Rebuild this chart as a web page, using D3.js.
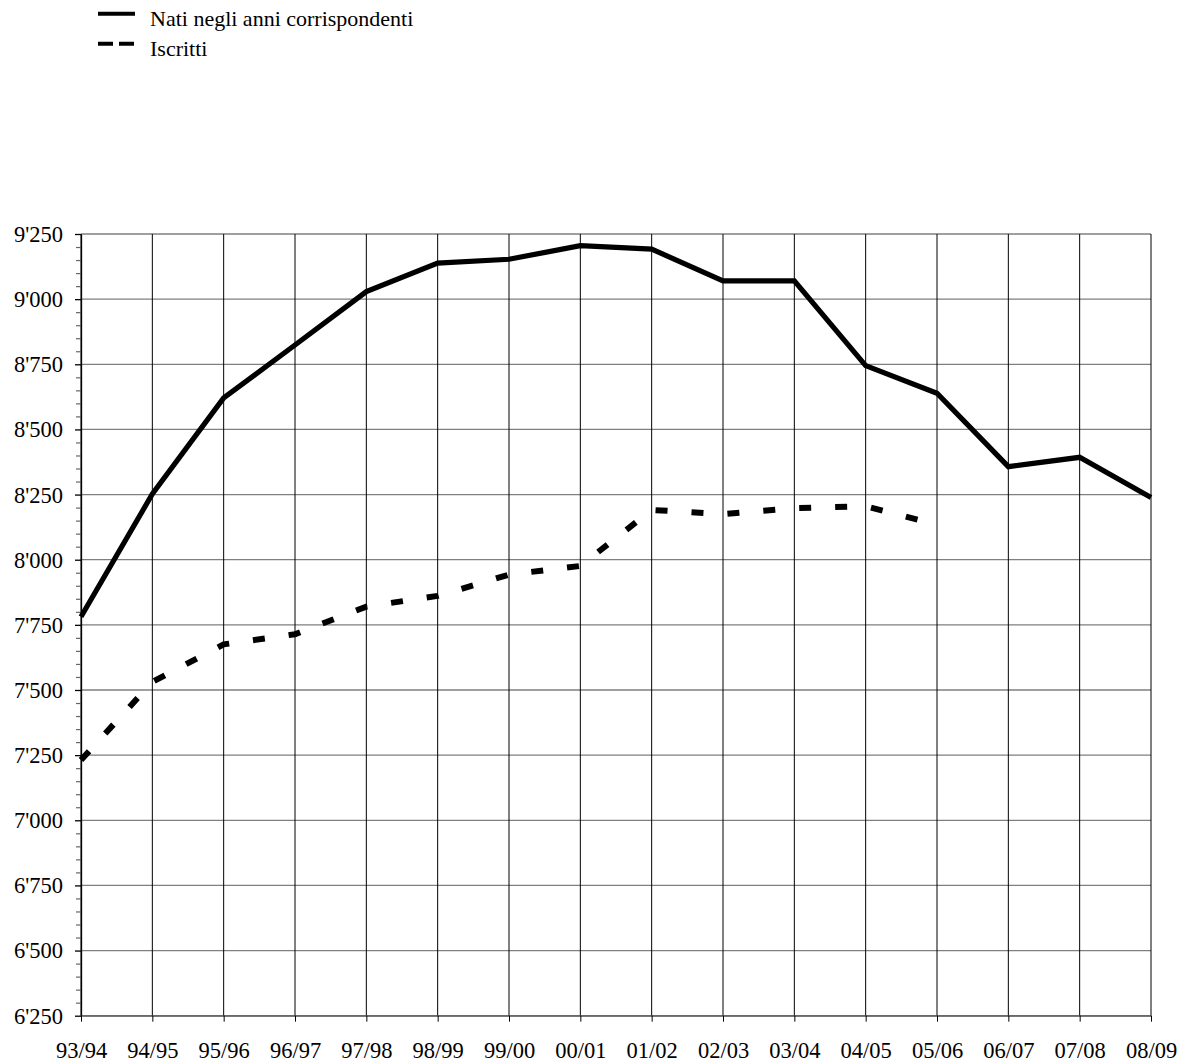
<!DOCTYPE html>
<html>
<head>
<meta charset="utf-8">
<script src="https://cdn.jsdelivr.net/npm/d3@7"></script>
<style>
  body { margin: 0; background: #fff; }
  svg { display: block; font-family: "Liberation Serif", "Times New Roman", serif; }
</style>
</head>
<body>
<div id="plot"></div>
<script>
// anni scolastici
const years = ["93/94", "94/95", "95/96", "96/97", "97/98", "98/99", "99/00", "00/01",
               "01/02", "02/03", "03/04", "04/05", "05/06", "06/07", "07/08", "08/09"];

// Nati negli anni corrispondenti
const nati = [7781, 8252, 8621, 8824, 9029, 9138, 9153, 9205,
              9192, 9070, 9070, 8745, 8639, 8357, 8393, 8239];

// Iscritti (fino al 05/06)
const iscritti = [7231, 7531, 7675, 7714, 7820, 7861, 7943, 7976,
                  8191, 8175, 8198, 8205, 8135];

const yTicks = [6250, 6500, 6750, 7000, 7250, 7500, 7750, 8000, 8250, 8500, 8750, 9000, 9250];

const legendItems = ["Nati negli anni corrispondenti", "Iscritti"];

// Dimensioni
const W = 1194, H = 1062;
const margin = {top: 234, right: 43, bottom: 46.3, left: 81};
const width = W - margin.left - margin.right,
      height = H - margin.top - margin.bottom;

const svg = d3.select("div#plot")
    .append("svg")
    .attr("width", W)
    .attr("height", H);

const g = svg.append("g")
    .attr("transform", `translate(${margin.left},${margin.top})`);

// Scale
const x = d3.scalePoint()
    .domain(years)
    .range([0, width])
    .padding(0);

const y = d3.scaleLinear()
    .domain([6250, 9250])
    .range([height, 0]);

const locale = d3.formatLocale({decimal: ".", thousands: "'", grouping: [3], currency: ["", ""]});
const fmt = locale.format(",");

// griglia orizzontale (grigia)
g.append("g")
    .selectAll("line")
    .data(yTicks)
    .join("line")
    .attr("x1", 0)
    .attr("x2", width)
    .attr("y1", d => y(d))
    .attr("y2", d => y(d))
    .attr("stroke", "#7f7f7f")
    .attr("stroke-width", 1.3);

// griglia verticale (nera)
g.append("g")
    .selectAll("line")
    .data(years)
    .join("line")
    .attr("x1", d => x(d))
    .attr("x2", d => x(d))
    .attr("y1", 0)
    .attr("y2", height)
    .attr("stroke", "#000")
    .attr("stroke-width", 1);

// tacche minori
const minor = d3.range(6250, 9251, 50).filter(v => !yTicks.includes(v));
g.append("g")
    .call(d3.axisLeft(y).tickValues(minor).tickSize(5).tickFormat(""))
    .call(a => a.select(".domain").remove())
    .call(a => a.selectAll("line").attr("stroke", "#666").attr("stroke-width", 1.2));

// Asse Y
g.append("g")
    .call(d3.axisLeft(y).tickValues(yTicks).tickSize(6).tickPadding(12).tickFormat(fmt).tickSizeOuter(0))
    .call(a => a.select(".domain").attr("stroke", "#000").attr("stroke-width", 1.3))
    .call(a => a.selectAll("line").attr("stroke-width", 1.3))
    .call(a => a.selectAll("text")
        .attr("font-size", 22.5)
        .attr("font-family", "Liberation Serif, Times New Roman, serif")
        .attr("fill", "#000")
        .attr("dy", "0.33em"));

// Asse X
g.append("g")
    .attr("transform", `translate(0,${height})`)
    .call(d3.axisBottom(x).tickSize(6).tickPadding(20).tickSizeOuter(0))
    .call(a => a.select(".domain").attr("stroke", "#555").attr("stroke-width", 1.3))
    .call(a => a.selectAll("text")
        .attr("font-size", 22.5)
        .attr("font-family", "Liberation Serif, Times New Roman, serif")
        .attr("fill", "#000"));

// Linee
const line = d3.line()
    .x((d, i) => x(years[i]))
    .y(d => y(d));

g.append("path")
    .datum(nati)
    .attr("fill", "none")
    .attr("stroke", "#000")
    .attr("stroke-width", 5.2)
    .attr("d", line);

g.append("path")
    .datum(iscritti)
    .attr("fill", "none")
    .attr("stroke", "#000")
    .attr("stroke-width", 6)
    .attr("stroke-dasharray", "12,24")
    .attr("d", line);

// Legenda
const legend = svg.append("g");
legendItems.forEach((name, i) => {
    const ly = 13.7 + i * 30;
    legend.append("line")
        .attr("x1", 98)
        .attr("x2", 135)
        .attr("y1", ly)
        .attr("y2", ly)
        .attr("stroke", "#000")
        .attr("stroke-width", 4)
        .attr("stroke-dasharray", i === 1 ? "15,6" : null);
    legend.append("text")
        .attr("x", 150)
        .attr("y", ly + 12.5)
        .attr("font-size", 22)
        .attr("fill", "#000")
        .text(name);
});
</script>
</body>
</html>
